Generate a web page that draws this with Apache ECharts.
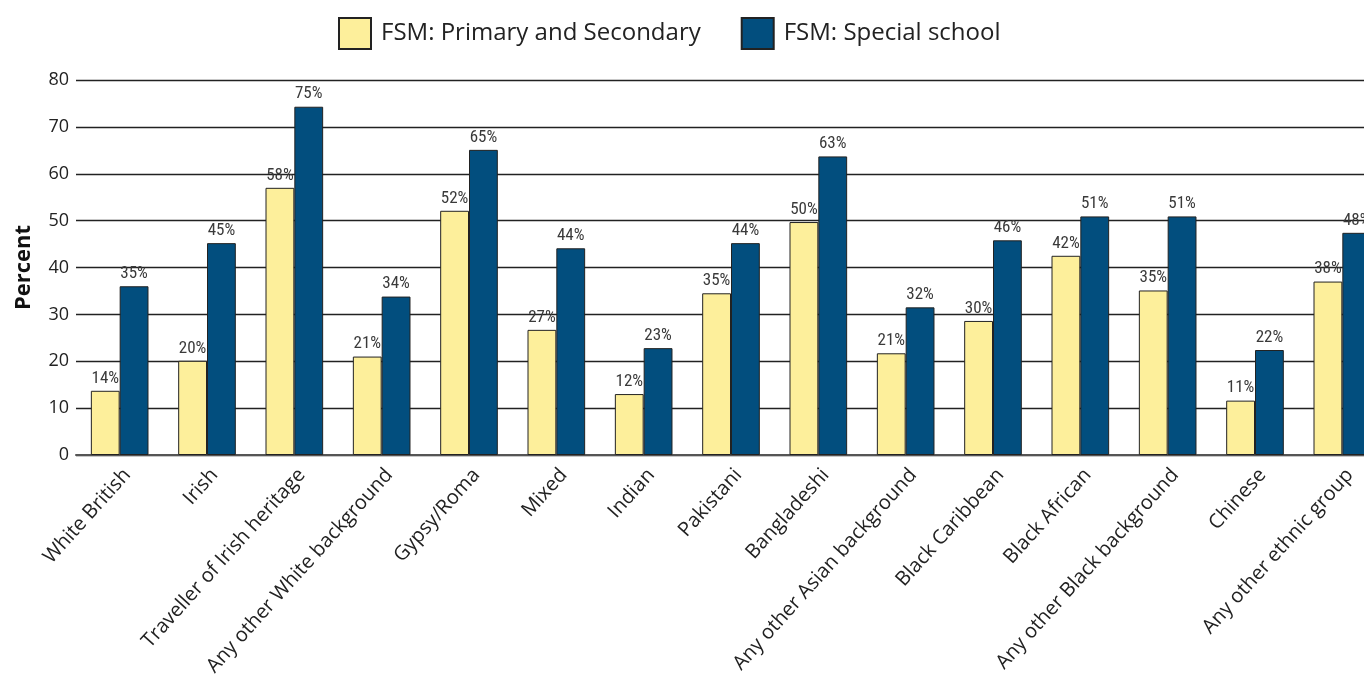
<!DOCTYPE html>
<html>
<head>
<meta charset="utf-8">
<script src="https://cdn.jsdelivr.net/npm/echarts@6/dist/echarts.min.js"></script>
<style>html,body{margin:0;padding:0;background:#fff;}#c{width:1364px;height:681px;}</style>
</head>
<body>
<div id="c"></div>
<script>
const categories = ["White British","Irish","Traveller of Irish heritage","Any other White background","Gypsy/Roma","Mixed","Indian","Pakistani","Bangladeshi","Any other Asian background","Black Caribbean","Black African","Any other Black background","Chinese","Any other ethnic group"];
const seriesNames = ["FSM: Primary and Secondary","FSM: Special school"];
const primaryValues = [13.7,20.1,57.0,21.0,52.1,26.7,13.0,34.5,49.7,21.7,28.6,42.5,35.1,11.6,37.0];
const specialValues = [36.0,45.2,74.3,33.8,65.1,44.1,22.8,45.2,63.7,31.5,45.8,50.9,50.9,22.4,47.4];
const primaryLabels = [14,20,58,21,52,27,12,35,50,21,30,42,35,11,38];
const specialLabels = [35,45,75,34,65,44,23,44,63,32,46,51,51,22,48];
const yTicks = {min:0,max:80,interval:10};

const mainFont = "'Open Sans','Noto Sans',sans-serif";
const condFont = "'Roboto Condensed','Liberation Sans Narrow','DejaVu Sans Condensed','Open Sans',sans-serif";

const chart = echarts.init(document.getElementById('c'), null, {renderer:'canvas'});
function labelCfg(arr){
  return {show:true, position:'top', distance:4, color:'#3a3a3a', fontFamily:condFont, fontSize:17, fontWeight:'normal',
    formatter: p => arr[p.dataIndex] + '%'};
}
chart.setOption({
  animation:false,
  backgroundColor:'#fff',
  legend:{
    left:338, top:17, padding:0, itemWidth:32, itemHeight:31, itemGap:40,
    icon:'rect',
    textStyle:{fontFamily:mainFont, fontSize:24, color:'#222', padding:[0,0,0,5]},
    data:seriesNames
  },
  grid:{left:76, width:1310, top:80, bottom:226, containLabel:false, outerBoundsMode:'none'},
  xAxis:{
    type:'category', data:categories, boundaryGap:true,
    axisTick:{show:false},
    axisLine:{show:true, lineStyle:{color:'#555', width:2}},
    axisLabel:{rotate:48, interval:0, fontFamily:mainFont, fontSize:20, color:'#222', margin:10, verticalAlign:'top'}
  },
  yAxis:{
    type:'value', min:yTicks.min, max:yTicks.max, interval:yTicks.interval,
    name:'Percent', nameLocation:'middle', nameRotate:90, nameGap:41,
    nameTextStyle:{fontFamily:mainFont, fontSize:22, fontWeight:'bold', color:'#111'},
    axisLine:{show:false}, axisTick:{show:false},
    axisLabel:{fontFamily:mainFont, fontSize:18, color:'#222', margin:7},
    splitLine:{lineStyle:{color:'#222', width:1.3}}
  },
  series:[
    {name:seriesNames[0], type:'bar', data:primaryValues, barGap:'0%', barCategoryGap:'34%',
     itemStyle:{color:'#FDEF9B', borderColor:'#222', borderWidth:1}, label:labelCfg(primaryLabels)},
    {name:seriesNames[1], type:'bar', data:specialValues, barGap:'0%', barCategoryGap:'34%',
     itemStyle:{color:'#024E7E', borderColor:'#222', borderWidth:1}, label:labelCfg(specialLabels)}
  ]
});
</script>
</body>
</html>
